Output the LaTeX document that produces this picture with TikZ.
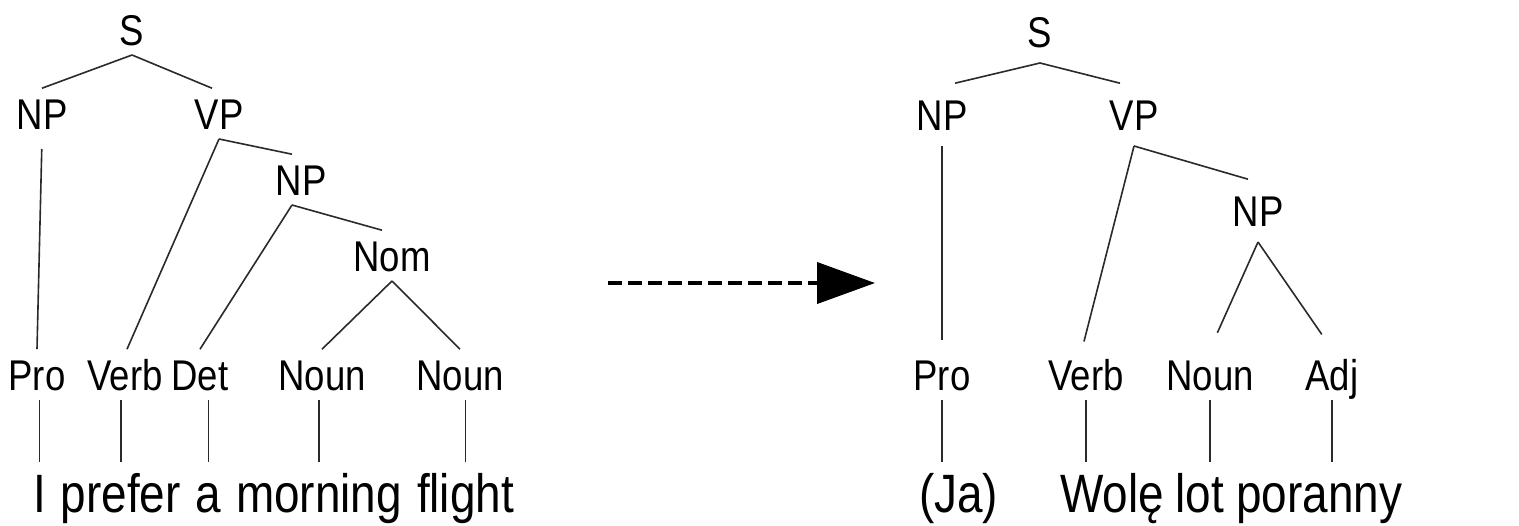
\documentclass[tikz,border=0pt]{standalone}
\usepackage{fontspec}
\usetikzlibrary{arrows.meta,positioning}
\newfontfamily\treefont{Liberation Sans}[FakeStretch=0.85]
\newcommand\labfont{\treefont\fontsize{21.5}{24}\selectfont}
\newcommand\wordfont{\treefont\fontsize{27}{30}\selectfont}
\definecolor{Branch}{HTML}{2A2A2A}

\begin{document}
\begin{tikzpicture}[x=0.5pt,y=-0.5pt,
    lab/.style={font=\labfont,anchor=base,inner xsep=0pt,inner ysep=5pt,outer sep=0pt,text height=15.4pt,text depth=0pt},
    rlab/.style={lab,inner ysep=8pt},
    word/.style={font=\wordfont,inner xsep=0pt,inner ysep=5.5pt,outer sep=0pt,text height=19.3pt,text depth=0pt},
    branch/.style={Branch,line width=0.8pt}]
    \fill[white] (0,0) rectangle (1519,525);
    \useasboundingbox (0,0) rectangle (1519,525);

    % English tree
    \node[lab] (ls) at (132,45) {S};
    \node[lab] (lnp) at (42,129) {NP};
    \node[lab] (lvp) at (219,129) {VP};
    \node[lab] (lnpb) at (301,195) {NP};
    \node[lab] (lnom) at (392,271) {Nom};
    \node[lab] (lpro) at (37,390) {Pro};
    \node[lab] (lverb) at (125,390) {Verb};
    \node[lab] (ldet) at (200,390) {Det};
    \node[lab] (lnouna) at (322,390) {Noun};
    \node[lab] (lnounb) at (460,390) {Noun};

    \node[word,anchor=base west] (li) at (33,512) {I};
    \node[word,base right=7.5pt of li] (lprefer) {prefer};
    \node[word,base right=7.5pt of lprefer] (la) {a};
    \node[word,base right=7.5pt of la] (lmorning) {morning};
    \node[word,base right=7.5pt of lmorning] (lflight) {flight};

    \draw[branch] (ls.south) -- (lnp.north);
    \draw[branch] (ls.south) -- ([xshift=-3.5pt]lvp.north);
    \draw[branch,shorten <=5pt] (lnp.south) -- (lpro.north);
    \draw[branch] (lvp.south) -- ([xshift=1pt]lverb.north);
    \draw[branch] (lvp.south) -- ([xshift=-4.5pt]lnpb.north);
    \draw[branch] ([xshift=-4.5pt]lnpb.south) -- (ldet.north);
    \draw[branch] ([xshift=-4.5pt]lnpb.south) -- ([xshift=-5pt]lnom.north);
    \draw[branch] (lnom.south) -- (lnouna.north);
    \draw[branch] (lnom.south) -- (lnounb.north);
    \foreach \p/\w in {lpro/li,lverb/lprefer,ldet/la,lnouna/lmorning,lnounb/lflight}
      \draw[branch] (\p.south -| \w) -- (\w.north);

    % translation arrow
    \coordinate (from) at (608,283);
    \coordinate (to) at (875,283);
    \draw[line width=2pt,dash pattern=on 7pt off 3pt,-{Triangle[length=29pt,width=20.5pt]}] (from) -- (to);

    % Polish tree
    \node[rlab] (rs) at (1040,47) {S};
    \node[rlab] (rnp) at (942,130) {NP};
    \node[rlab] (rvp) at (1134,130) {VP};
    \node[rlab] (rnpb) at (1258,226) {NP};
    \node[lab] (rpro) at (942,390) {Pro};
    \node[lab] (rverb) at (1086,390) {Verb};
    \node[lab] (rnoun) at (1210,390) {Noun};
    \node[lab] (radj) at (1332,390) {Adj};

    \node[word,anchor=base west] (rja) at (919,512) {(Ja)};
    \node[word,anchor=base west] (rwole) at (1060,512) {Wolę};
    \node[word,base right=6pt of rwole] (rlot) {lot};
    \node[word,base right=6pt of rlot] (rporanny) {poranny};

    \draw[branch] (rs.south) -- ([xshift=6.5pt]rnp.north);
    \draw[branch] (rs.south) -- ([xshift=-7pt]rvp.north);
    \draw[branch,shorten >=4.5pt] (rnp.south) -- (rpro.north);
    \draw[branch,shorten >=4pt] (rvp.south) -- ([xshift=-2pt]rverb.north);
    \draw[branch] (rvp.south) -- ([xshift=-5pt]rnpb.north);
    \draw[branch,shorten >=9pt] (rnpb.south) -- (rnoun.north);
    \draw[branch,shorten >=9pt] (rnpb.south) -- (radj.north);
    \foreach \p/\w in {rpro/rja,rverb/rwole,rnoun/rlot,radj/rporanny}
      \draw[branch] (\p.south) -- (\p.south |- \w.north);
\end{tikzpicture}
\end{document}
